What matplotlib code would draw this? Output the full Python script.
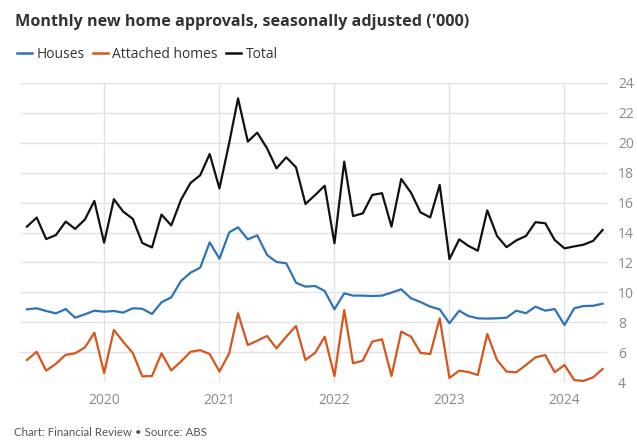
import numpy as np
import pandas as pd
import matplotlib
matplotlib.use("Agg")
from matplotlib import pyplot as plt
from matplotlib.lines import Line2D

# Dane: miesięcznie od maja 2019 do maja 2024 ('000)
months = pd.date_range("2019-05-01", "2024-05-01", freq="MS")

houses = [8.86, 8.93, 8.75, 8.59, 8.88, 8.30, 8.53, 8.77,
          8.70, 8.75, 8.64, 8.93, 8.90, 8.55, 9.33, 9.66, 10.76, 11.31, 11.65, 13.34,
          12.25, 14.01, 14.35, 13.54, 13.81, 12.50, 12.03, 11.94, 10.64, 10.38, 10.42, 10.09,
          8.86, 9.93, 9.78, 9.78, 9.75, 9.78, 9.98, 10.20, 9.60, 9.35, 9.04, 8.86,
          7.93, 8.77, 8.42, 8.26, 8.24, 8.26, 8.30, 8.77, 8.60, 9.04, 8.77, 8.88,
          7.81, 8.93, 9.08, 9.10, 9.24]

attached = [5.47, 6.02, 4.76, 5.22, 5.82, 5.92, 6.31, 7.30,
            4.60, 7.48, 6.70, 5.94, 4.38, 4.40, 5.92, 4.78, 5.37, 6.02, 6.13, 5.87,
            4.70, 5.92, 8.60, 6.47, 6.76, 7.08, 6.25, 7.03, 7.75, 5.47, 5.96, 7.03,
            4.40, 8.81, 5.25, 5.43, 6.70, 6.86, 4.40, 7.37, 7.03, 5.95, 5.87, 8.26,
            4.27, 4.76, 4.67, 4.47, 7.21, 5.47, 4.70, 4.65, 5.14, 5.65, 5.80, 4.65,
            5.14, 4.13, 4.07, 4.31, 4.87]

total = [14.39, 15.00, 13.56, 13.83, 14.73, 14.24, 14.87, 16.11,
         13.32, 16.23, 15.41, 14.91, 13.30, 13.00, 15.20, 14.47, 16.19, 17.31, 17.83, 19.25,
         16.95, 20.00, 22.97, 20.08, 20.68, 19.63, 18.29, 19.03, 18.36, 15.91, 16.51, 17.13,
         13.28, 18.74, 15.10, 15.28, 16.51, 16.63, 14.39, 17.58, 16.66, 15.35, 15.01, 17.18,
         12.22, 13.54, 13.12, 12.78, 15.48, 13.77, 13.02, 13.47, 13.77, 14.69, 14.62, 13.50,
         12.94, 13.07, 13.18, 13.44, 14.17]

years = ["2020", "2021", "2022", "2023", "2024"]
y_ticks = [4, 6, 8, 10, 12, 14, 16, 18, 20, 22, 24]

kolory = {"Houses": "#2e74b7", "Attached homes": "#d6561e", "Total": "#111111"}

plt.rcParams["font.family"] = ["Open Sans", "DejaVu Sans"]

fig = plt.figure(figsize=(6.37, 4.47), dpi=100, facecolor="white")
ax = fig.add_axes([20 / 637, 65 / 447, 587 / 637, 299 / 447])

ax.plot(months, houses, color=kolory["Houses"], lw=1.6)
ax.plot(months, attached, color=kolory["Attached homes"], lw=1.6)
ax.plot(months, total, color=kolory["Total"], lw=1.6)

ax.set_ylim(4, 24)
ax.set_xlim(pd.Timestamp("2019-04-09"), pd.Timestamp("2024-05-15"))
ax.set_yticks(y_ticks)
ax.yaxis.tick_right()
ax.set_xticks([pd.Timestamp(y + "-01-01") for y in years])
ax.set_xticklabels(years)
ax.tick_params(axis="both", length=0, labelsize=10, labelcolor="#8a8a8a")
ax.tick_params(axis="y", pad=8)
ax.tick_params(axis="x", pad=8)
ax.grid(True, color="#e3e3e3", lw=1)
ax.set_axisbelow(True)
for s in ax.spines.values():
    s.set_visible(False)

# tytuł, legenda, stopka
fig.text(15 / 637, 1 - 22 / 447, "Monthly new home approvals, seasonally adjusted ('000)",
         fontsize=11.6, fontweight="bold", color="#333333", va="center", ha="left")

uchwyty = [Line2D([], [], color=c, lw=1.8) for c in kolory.values()]
fig.legend(uchwyty, list(kolory.keys()), loc="center left",
           bbox_to_anchor=(17 / 637, 1 - 54 / 447), ncol=3, frameon=False,
           fontsize=10, handlelength=1.1, handletextpad=0.3, columnspacing=0.6,
           labelcolor="#333333", borderaxespad=0, borderpad=0)

fig.text(14 / 637, 1 - 432 / 447, "Chart: Financial Review \u2022 Source: ABS",
         fontsize=8.3, color="#555555", va="center", ha="left",
         family=["Lato", "DejaVu Sans"])

fig.savefig("out.png", dpi=100, facecolor="white")
